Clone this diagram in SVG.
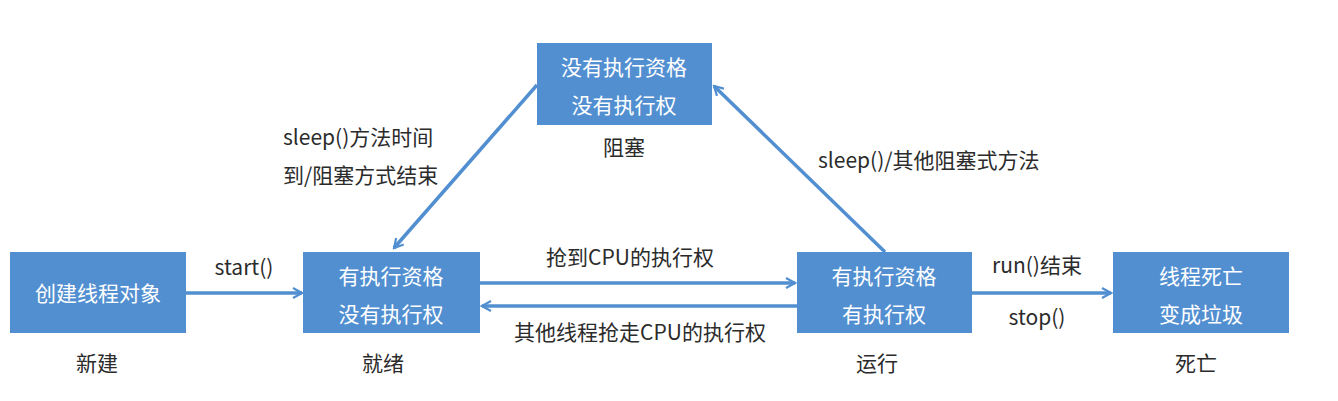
<svg xmlns="http://www.w3.org/2000/svg" width="1338" height="401" viewBox="0 0 1338 401">
<style>
.box{fill:#528fd1;}
.bt{fill:#ffffff;font-family:"Noto Sans CJK SC","Noto Sans",sans-serif;font-size:21px;text-anchor:middle;}
.lb{fill:#2b2b2b;font-family:"Noto Sans CJK SC","Noto Sans",sans-serif;font-size:21px;}
.mid{text-anchor:middle;}
.ln{stroke:#528fd1;stroke-width:3.5;fill:none;marker-end:url(#ah);}
</style>
<defs>
<marker id="ah" viewBox="0 0 12 12" refX="10" refY="6" markerWidth="12" markerHeight="12" markerUnits="userSpaceOnUse" orient="auto">
<path d="M1,1 L10,6 L1,11" fill="none" stroke="#528fd1" stroke-width="2.2"/>
</marker>
</defs>
<rect width="1338" height="401" fill="#ffffff"/>
<g id="connectors">
<line class="ln" x1="186" y1="293" x2="302" y2="293"/>
<line class="ln" x1="480" y1="283" x2="795" y2="283"/>
<line class="ln" x1="797" y1="306" x2="482" y2="306"/>
<line class="ln" x1="972" y1="293" x2="1111" y2="293"/>
<line class="ln" x1="537" y1="85" x2="394" y2="248"/>
<line class="ln" x1="885" y1="252" x2="714" y2="86"/>
<text class="lb mid" x="244" y="275">start()</text>
<text class="lb mid" x="630" y="265">抢到CPU的执行权</text>
<text class="lb mid" x="640" y="340">其他线程抢走CPU的执行权</text>
<text class="lb mid" x="1037" y="273">run()结束</text>
<text class="lb mid" x="1037" y="325">stop()</text>
<text class="lb" x="283" y="145">sleep()方法时间</text>
<text class="lb" x="283" y="183">到/阻塞方式结束</text>
<text class="lb" x="818" y="168">sleep()/其他阻塞式方法</text>
</g>
<g id="new">
<rect class="box" x="10" y="252" width="176" height="81"/>
<text class="bt" x="98" y="301">创建线程对象</text>
<text class="lb mid" x="97" y="371">新建</text>
</g>
<g id="ready">
<rect class="box" x="303" y="252" width="177" height="81"/>
<text class="bt" x="391" y="284">有执行资格</text>
<text class="bt" x="391" y="322">没有执行权</text>
<text class="lb mid" x="383" y="371">就绪</text>
</g>
<g id="running">
<rect class="box" x="797" y="252" width="175" height="81"/>
<text class="bt" x="884" y="284">有执行资格</text>
<text class="bt" x="884" y="322">有执行权</text>
<text class="lb mid" x="877" y="371">运行</text>
</g>
<g id="dead">
<rect class="box" x="1113" y="252" width="176" height="81"/>
<text class="bt" x="1201" y="284">线程死亡</text>
<text class="bt" x="1201" y="322">变成垃圾</text>
<text class="lb mid" x="1196" y="371">死亡</text>
</g>
<g id="blocked">
<rect class="box" x="537" y="43" width="175" height="82"/>
<text class="bt" x="624" y="75">没有执行资格</text>
<text class="bt" x="624" y="113">没有执行权</text>
<text class="lb mid" x="624" y="155">阻塞</text>
</g>
</svg>
